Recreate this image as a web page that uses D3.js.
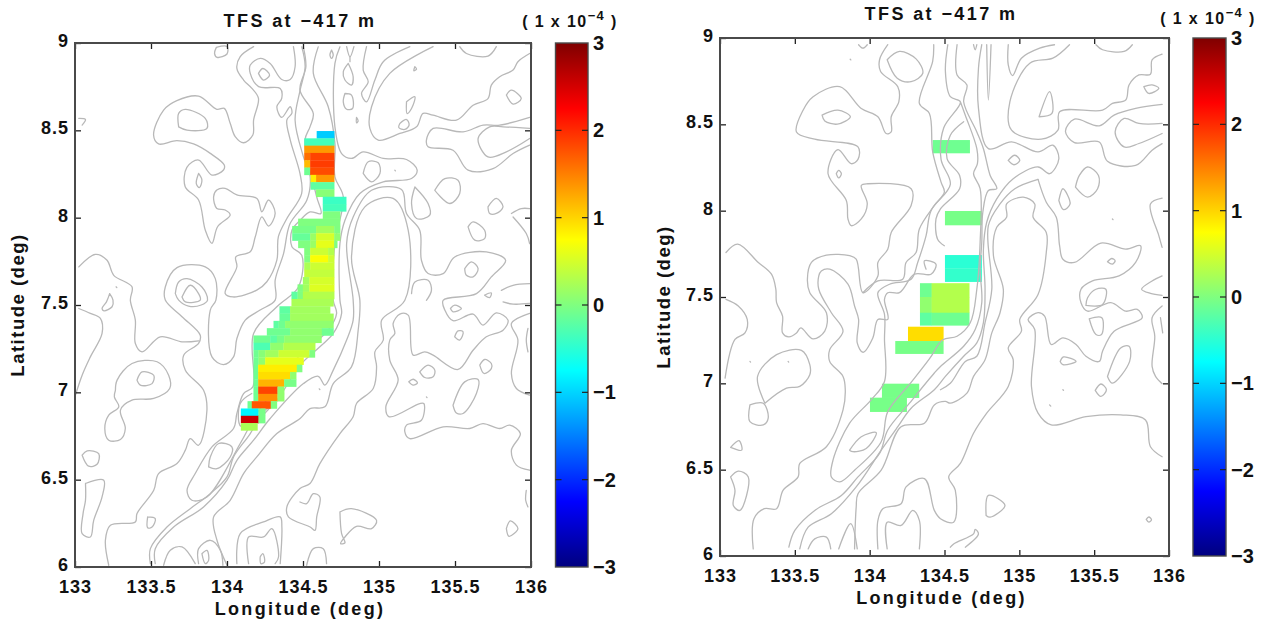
<!DOCTYPE html>
<html><head><meta charset="utf-8">
<script src="https://cdnjs.cloudflare.com/ajax/libs/d3/7.8.5/d3.min.js"></script>
<style>html,body{margin:0;background:#fff}svg{display:block}text{font-family:"Liberation Sans",Arial,sans-serif;font-weight:bold;fill:#111}</style>
</head><body><svg id="c" width="1263" height="622"></svg>
<script>
const lonTicks=[133,133.5,134,134.5,135,135.5,136];
const lonTickLabels=["133","133.5","134","134.5","135","135.5","136"];
const latTicks=[6,6.5,7,7.5,8,8.5,9];
const latTickLabels=["6","6.5","7","7.5","8","8.5","9"];
const barTicks=[-3,-2,-1,0,1,2,3];
const titleText="TFS at \u2212417 m";
const xLabel="Longitude (deg)",yLabel="Latitude (deg)";
const jetStops=[[0,"#00007f"],[0.125,"#0000ff"],[0.375,"#00ffff"],[0.625,"#ffff00"],[0.875,"#ff0000"],[1,"#7f0000"]];
// left panel field: rows run north to south, each row lists [lonWest, lonEast, value]
const leftRowTop=8.496, leftRowStep=0.0418;
const leftRows=[
[[134.59,134.705,-1.05]],
[[134.508,134.705,-0.35]],
[[134.508,134.705,1.35]],
[[134.508,134.547,1.6],[134.547,134.705,1.85]],
[[134.508,134.547,1.15],[134.547,134.705,1.9]],
[[134.508,134.547,-0.1],[134.547,134.705,1.8]],
[[134.55,134.586,0.85],[134.586,134.705,1.35]],
[[134.55,134.705,-0.2]],
[[134.586,134.705,0.05]],
[[134.63,134.784,-0.4]],
[[134.63,134.784,-0.35]],
[[134.63,134.744,0]],
[[134.468,134.744,0]],
[[134.429,134.586,-0.05],[134.586,134.705,0.2],[134.705,134.744,0]],
[[134.429,134.547,-0.15],[134.547,134.586,0.15],[134.586,134.705,0.5],[134.705,134.744,0.1]],
[[134.468,134.547,0],[134.547,134.586,0.15],[134.586,134.705,0.6],[134.705,134.725,0]],
[[134.508,134.547,0],[134.547,134.665,0.45],[134.665,134.705,0.3]],
[[134.508,134.547,0],[134.547,134.665,0.72],[134.665,134.705,0.45]],
[[134.508,134.547,0.25],[134.547,134.705,0.45]],
[[134.508,134.705,0.4]],
[[134.499,134.542,0.2],[134.542,134.705,0.5]],
[[134.464,134.499,0],[134.499,134.542,0.2],[134.542,134.705,0.55]],
[[134.424,134.464,-0.2],[134.464,134.499,0],[134.499,134.705,0.3]],
[[134.424,134.7,0.25]],
[[134.345,134.415,-0.2],[134.415,134.678,0.2]],
[[134.345,134.415,-0.15],[134.415,134.7,0.2]],
[[134.306,134.339,-0.2],[134.339,134.382,-0.1],[134.382,134.7,0.1]],
[[134.262,134.415,-0.1],[134.415,134.624,0.1],[134.624,134.7,-0.1]],
[[134.174,134.284,-0.1],[134.284,134.328,-0.2],[134.328,134.376,-0.05],[134.376,134.621,0.1]],
[[134.174,134.284,-0.3],[134.284,134.371,0.1],[134.371,134.58,0.3]],
[[134.174,134.207,-0.1],[134.207,134.251,0.05],[134.251,134.339,0.2],[134.339,134.542,0.45],[134.542,134.578,0]],
[[134.174,134.207,-0.1],[134.207,134.251,0.1],[134.251,134.503,0.6]],
[[134.174,134.205,-0.1],[134.205,134.459,0.85],[134.459,134.494,0]],
[[134.174,134.205,-0.1],[134.205,134.415,0.95],[134.415,134.455,0.1]],
[[134.174,134.205,-0.1],[134.205,134.376,1.2],[134.376,134.455,-0.05]],
[[134.174,134.205,-0.1],[134.205,134.332,1.85],[134.332,134.376,0.1]],
[[134.174,134.205,-0.1],[134.205,134.332,1.4],[134.332,134.376,0.1]],
[[134.135,134.163,-0.1],[134.163,134.288,1.75],[134.288,134.328,0]],
[[134.091,134.207,-0.8],[134.207,134.251,-0.05]],
[[134.091,134.207,2.55],[134.207,134.251,-0.05]],
[[134.091,134.2,0.25]]
];
// right panel field: [lonWest, lonEast, latNorth, latSouth, value]
const rightCells=[
[134.421,134.668,8.409,8.334,-0.1],
[134.503,134.748,7.998,7.917,-0.05],
[134.503,134.748,7.743,7.666,-0.5],
[134.503,134.748,7.666,7.589,-0.45],
[134.336,134.414,7.58,7.5,-0.1],
[134.414,134.665,7.58,7.5,0.3],
[134.336,134.414,7.5,7.409,0.1],
[134.414,134.665,7.5,7.409,0.3],
[134.336,134.414,7.409,7.336,-0.2],
[134.414,134.665,7.409,7.336,-0.1],
[134.256,134.492,7.328,7.245,0.95],
[134.171,134.492,7.245,7.172,-0.05],
[134.082,134.329,6.998,6.917,-0.05],
[134.002,134.247,6.917,6.836,-0.05]
];
const leftContours=[
[[133.93,8.975],[134,8.98],[134,8.937],[133.935,8.918],[133.918,8.941],[133.93,8.975]],
[[134.175,8.979],[134.087,8.922],[134.065,8.855],[134.109,8.788],[134.164,8.74],[134.207,8.683],[134.175,8.559],[134.17,8.473],[134.109,8.429],[134.054,8.464],[134.021,8.54],[133.982,8.626],[133.933,8.62],[133.813,8.696],[133.67,8.67],[133.583,8.616],[133.517,8.473],[133.55,8.422],[133.67,8.441],[133.78,8.422],[133.89,8.368],[133.982,8.301],[133.977,8.273],[133.901,8.244],[133.813,8.33],[133.736,8.288],[133.725,8.177],[133.813,8.101],[133.857,7.929],[133.901,7.853],[133.938,7.948],[134.021,8.015],[133.988,8.044],[133.933,8.053],[133.912,8.12],[133.933,8.158],[133.988,8.168],[134.065,8.13],[134.197,8.11],[134.229,8.034],[134.273,8.101],[134.317,8.025],[134.273,7.952],[134.229,8.005],[134.186,7.891],[134.153,7.805],[134.058,7.776],[134.065,7.719],[133.988,7.566],[134.04,7.546],[134.196,7.585],[134.262,7.633],[134.328,7.757],[134.338,7.891],[134.394,7.995],[134.491,8.138],[134.48,8.253],[134.416,8.445],[134.394,8.56],[134.427,8.598],[134.416,8.635],[134.36,8.574],[134.328,8.635],[134.36,8.683],[134.35,8.74],[134.208,8.75],[134.153,8.826],[134.153,8.874],[134.219,8.912],[134.284,8.883],[134.36,8.791],[134.416,8.791],[134.448,8.864],[134.437,8.979]],
[[134.207,8.826],[134.236,8.854],[134.28,8.816],[134.24,8.788],[134.207,8.826]],
[[133.025,8.568],[133.069,8.562],[133.047,8.53]],
[[133.813,8.253],[133.835,8.215],[133.818,8.172],[133.798,8.195],[133.813,8.253]],
[[133.682,8.52],[133.682,8.597],[133.725,8.62],[133.857,8.568],[133.868,8.511],[133.737,8.501],[133.682,8.52]],
[[133.025,7.718],[133.134,7.79],[133.211,7.756],[133.255,7.67],[133.375,7.604],[133.364,7.528],[133.397,7.413],[133.397,7.28],[133.441,7.232],[133.561,7.318],[133.704,7.289],[133.813,7.295]],
[[133.222,6.01],[133.2,6.153],[133.233,6.239],[133.397,6.258],[133.408,6.306],[133.518,6.439],[133.55,6.535],[133.671,6.592],[133.726,6.669],[133.758,6.735],[133.813,6.697],[133.868,6.898],[133.846,7.012],[133.726,7.127],[133.715,7.213],[133.813,7.28],[133.824,7.327],[133.704,7.433],[133.594,7.528],[133.594,7.603],[133.671,7.714],[133.857,7.718],[133.923,7.651],[133.927,7.528],[133.89,7.471],[133.901,7.203],[133.977,7.159],[134.043,7.203],[134.065,7.308],[134.12,7.413],[134.218,7.471],[134.317,7.528],[134.317,7.642],[134.372,7.794],[134.415,7.966],[134.525,8.1],[134.547,8.234],[134.503,8.348],[134.448,8.558],[134.481,8.73],[134.514,8.864],[134.492,8.978]],
[[133.66,7.565],[133.682,7.632],[133.737,7.651],[133.835,7.603],[133.872,7.528],[133.83,7.5],[133.747,7.494],[133.682,7.528],[133.66,7.565]],
[[133.704,7.546],[133.758,7.613],[133.813,7.565],[133.824,7.528],[133.726,7.518],[133.704,7.546]],
[[133.228,7.565],[133.25,7.528],[133.244,7.49],[133.19,7.467],[133.178,7.48],[133.207,7.518],[133.228,7.565]],
[[133.27,7.604],[133.275,7.6]],
[[133.408,7.07],[133.441,7.117],[133.518,7.098],[133.507,7.05],[133.43,7.041],[133.408,7.07]],
[[133.266,7.012],[133.277,7.07],[133.375,7.165],[133.54,7.175],[133.616,7.098],[133.623,7.022],[133.518,6.965],[133.375,6.955],[133.299,6.898],[133.331,6.793],[133.299,6.73],[133.222,6.726],[133.196,6.793],[133.222,6.869],[133.288,6.917],[133.259,6.974],[133.266,7.012]],
[[133.047,6.64],[133.08,6.665],[133.156,6.649],[133.145,6.588],[133.09,6.577],[133.047,6.64]],
[[133.069,6.478],[133.189,6.497],[133.178,6.401],[133.123,6.267],[133.101,6.172],[133.047,6.191],[133.053,6.306],[133.069,6.382],[133.069,6.478]],
[[133.478,6.287],[133.528,6.277],[133.507,6.229],[133.478,6.225],[133.478,6.287]],
[[133.025,7.48],[133.101,7.452],[133.167,7.423],[133.178,7.337],[133.101,7.203],[133.047,7.098],[133.003,6.984]],
[[133.879,6.573],[133.89,6.63],[133.945,6.707],[134.032,6.688],[134.021,6.63],[133.934,6.563],[133.879,6.573]],
[[133.496,6.019],[133.496,6.105],[133.605,6.229],[133.758,6.334],[133.89,6.42],[134,6.516],[134.043,6.63],[134.153,6.764],[134.229,6.879],[134.328,6.955],[134.481,7.156],[134.611,7.261],[134.699,7.337],[134.754,7.452],[134.743,7.528],[134.743,7.852],[134.776,7.985],[134.874,8.138],[135.028,8.205],[135.214,8.224],[135.251,8.272],[135.181,8.333],[135.028,8.339],[134.896,8.377],[134.819,8.339],[134.754,8.367],[134.71,8.52],[134.71,8.883],[134.743,8.978]],
[[133.528,6.019],[133.528,6.105],[133.649,6.229],[133.846,6.344],[134,6.497],[134.065,6.611],[134.175,6.726],[134.284,6.85],[134.503,7.05],[134.6,7.092],[134.644,7.041],[134.699,7.127],[134.787,7.299],[134.83,7.413],[134.83,7.528],[134.787,7.852],[134.83,8.004],[134.951,8.157],[135.148,8.161],[135.181,8.024],[135.268,7.928],[135.279,7.756],[135.323,7.68],[135.422,7.68],[135.498,7.775],[135.706,7.804],[135.833,7.756],[135.739,7.661],[135.641,7.565],[135.422,7.527],[135.433,7.471],[135.487,7.41],[135.619,7.448],[135.684,7.385],[135.772,7.455],[135.849,7.413],[135.816,7.356],[135.706,7.318],[135.619,7.241],[135.52,7.131],[135.356,7.213],[135.301,7.232],[135.225,7.213],[135.192,7.442],[135.137,7.448],[135.093,7.394],[135.104,7.337],[135.071,7.299],[135.071,7.184],[135.126,7.07],[135.045,6.917],[135.067,6.86],[135.268,6.936],[135.295,6.936],[135.279,6.84],[135.181,6.812],[135.17,6.774],[135.203,6.735],[135.422,6.802],[135.597,6.793],[135.684,6.821],[135.794,6.793],[135.86,6.812],[135.93,6.764],[135.871,6.668],[135.904,6.583],[135.991,6.554]],
[[134,6.01],[133.934,6.153],[133.912,6.287],[134.021,6.382],[134.109,6.535],[134.196,6.63],[134.328,6.764],[134.481,6.85],[134.546,6.907],[134.644,6.917],[134.699,7.05],[134.819,7.146],[134.863,7.356],[134.874,7.528],[134.819,7.775],[134.907,8.062],[135.093,8.11],[135.192,7.928],[135.17,7.527],[135.017,7.413],[135.028,7.299],[134.973,7.232],[134.984,7.146],[134.962,7.022],[134.852,6.936],[134.83,6.86],[134.743,6.764],[134.611,6.592],[134.546,6.478],[134.48,6.449],[134.394,6.344],[134.404,6.287],[134.547,6.229],[134.579,6.21],[134.59,6.286],[134.611,6.401],[134.568,6.42],[134.524,6.363],[134.48,6.372]],
[[134.6,8.978],[134.568,8.826],[134.666,8.635],[134.71,8.425],[134.71,8.234],[134.765,8.119],[134.71,7.852],[134.699,7.527],[134.721,7.452],[134.666,7.356],[134.546,7.261],[134.48,7.213],[134.328,7.031],[134.196,6.879],[134.087,6.707],[133.868,6.401],[133.769,6.382],[133.737,6.439],[133.791,6.535],[133.901,6.688],[134.043,6.793],[134.065,6.879],[134.109,6.993],[134.17,7.031],[134.175,7.337],[134.328,7.49],[134.47,7.603],[134.492,7.785],[134.427,7.833],[134.427,7.928],[134.481,7.985],[134.546,8.033],[134.618,8.024],[134.59,8.119],[134.513,8.444],[134.546,8.52],[134.568,8.596],[134.48,8.73],[134.519,8.864],[134.502,8.978]],
[[134.163,6.993],[134.087,6.936],[134.091,6.806],[134.196,6.84],[134.306,6.936]],
[[134.065,6.019],[134.087,6.191],[134.24,6.258],[134.35,6.287],[134.361,6.229],[134.35,6.019]],
[[134.142,6.019],[134.142,6.172],[134.24,6.172],[134.295,6.22],[134.339,6.057],[134.317,6.019]],
[[134.218,6.057],[134.236,6.076],[134.247,6.029],[134.223,6.019],[134.218,6.057]],
[[133.835,6.076],[133.868,6.095],[133.879,6.038],[133.857,6.019],[133.835,6.076]],
[[133.583,6.01],[133.627,6.096],[133.704,6.115],[133.791,6.019]],
[[133.813,6.019],[133.813,6.105],[133.89,6.153],[133.956,6.096],[133.973,6.01]],
[[135.268,7.117],[135.323,7.156],[135.367,7.127],[135.356,7.089],[135.301,7.085],[135.268,7.117]],
[[135.196,7.06],[135.225,7.075],[135.253,7.054],[135.225,7.041],[135.196,7.06]],
[[135.312,6.974],[135.316,6.97]],
[[135.498,7.318],[135.52,7.352],[135.553,7.347],[135.531,7.299],[135.498,7.318]],
[[135.663,7.156],[135.695,7.188],[135.739,7.165],[135.739,7.136],[135.691,7.108],[135.663,7.156]],
[[135.487,6.926],[135.564,7.06],[135.652,7.073],[135.641,6.993],[135.553,6.879],[135.509,6.882],[135.487,6.926]],
[[135.47,7.48],[135.498,7.499],[135.542,7.48],[135.487,7.461],[135.47,7.48]],
[[134.607,7.02],[134.611,7.016]],
[[135.838,6.22],[135.864,6.264],[135.914,6.22],[135.855,6.176],[135.838,6.22]],
[[134.743,6.315],[134.819,6.334],[134.984,6.267],[134.951,6.22],[134.852,6.233],[134.776,6.172],[134.747,6.134],[134.776,6.138],[134.754,6.191],[134.743,6.315]],
[[135.969,6.439],[135.965,6.382],[135.98,6.344]],
[[135.98,7.366],[135.969,7.299],[135.98,7.232]],
[[135.991,7.452],[135.871,7.394],[135.914,7.299],[135.871,7.108],[135.904,7.022],[135.991,6.984]],
[[135.816,7.518],[135.882,7.505],[135.991,7.509]],
[[134.524,6.01],[134.568,6.105],[134.633,6.105],[134.655,6.019]],
[[135.531,8.979],[135.575,8.94],[135.717,8.925],[135.772,8.979]],
[[135.991,8.94],[135.914,8.893],[135.882,8.845],[135.794,8.807],[135.739,8.759],[135.717,8.682],[135.619,8.644],[135.509,8.558],[135.356,8.587],[135.29,8.597],[135.247,8.52],[135.137,8.482],[134.995,8.444],[134.94,8.511],[134.951,8.635],[135.071,8.826],[135.356,8.979]],
[[135.203,8.979],[135.028,8.893],[134.973,8.788],[134.918,8.663],[134.885,8.711],[134.929,8.778],[134.896,8.845],[134.918,8.979]],
[[134.688,8.959],[134.699,8.931],[134.688,8.912],[134.677,8.931],[134.688,8.959]],
[[134.787,8.979],[134.809,8.921],[134.835,8.979]],
[[134.809,8.921],[134.809,8.893]],
[[134.798,8.883],[134.83,8.807],[134.819,8.759],[134.776,8.788],[134.765,8.835],[134.798,8.883]],
[[134.776,8.711],[134.819,8.702],[134.826,8.625],[134.787,8.621],[134.765,8.663],[134.776,8.711]],
[[134.852,8.574],[134.863,8.554],[134.852,8.543],[134.852,8.574]],
[[135.236,8.864],[135.247,8.851],[135.229,8.841],[135.236,8.864]],
[[135.181,8.663],[135.236,8.692],[135.214,8.625],[135.185,8.596],[135.181,8.663]],
[[135.137,8.539],[135.181,8.562],[135.198,8.53],[135.17,8.505],[135.13,8.516],[135.137,8.539]],
[[135.991,8.574],[135.794,8.53],[135.685,8.53],[135.553,8.491],[135.356,8.511],[135.312,8.444],[135.323,8.406],[135.487,8.386],[135.586,8.272],[135.75,8.281],[135.882,8.367],[135.991,8.415]],
[[135.991,8.511],[135.816,8.52],[135.728,8.52],[135.652,8.453],[135.717,8.348],[135.838,8.377],[135.991,8.453]],
[[134.896,8.253],[134.929,8.32],[134.995,8.314],[135.006,8.253],[134.951,8.205],[134.896,8.253]],
[[135.104,8.272],[135.108,8.268]],
[[135.236,8.176],[135.323,8.081],[135.334,8.014],[135.247,7.995],[135.214,8.081],[135.236,8.176]],
[[135.367,8.157],[135.433,8.224],[135.52,8.214],[135.531,8.138],[135.466,8.081],[135.367,8.157]],
[[135.717,8.062],[135.772,8.11],[135.816,8.062],[135.772,8.024],[135.728,8.024],[135.717,8.062]],
[[135.586,7.947],[135.619,7.976],[135.695,7.928],[135.695,7.88],[135.63,7.871],[135.586,7.947]],
[[135.564,7.708],[135.608,7.747],[135.652,7.708],[135.619,7.661],[135.575,7.67],[135.564,7.708]],
[[135.214,7.565],[135.236,7.632],[135.323,7.642],[135.345,7.584],[135.312,7.527]],
[[135.695,7.556],[135.739,7.569],[135.728,7.542],[135.695,7.556]],
[[135.805,7.584],[135.882,7.613],[135.991,7.622]],
[[135.871,8.024],[135.936,8.052],[135.991,8.052]],
[[135.882,8.004],[135.969,7.909],[135.991,7.852]],
[[135.838,8.702],[135.871,8.73],[135.936,8.682],[135.882,8.65],[135.838,8.702]]
];
const rightContours=[
[[133.926,8.961],[133.955,8.941],[133.984,8.961]],
[[133.87,8.877],[133.874,8.873]],
[[134.117,8.874],[134.199,8.922],[134.31,8.879],[134.355,8.796],[134.277,8.747],[134.184,8.767],[134.117,8.874]],
[[134.121,8.961],[134.066,8.874],[134.073,8.806],[134.188,8.718],[134.195,8.631],[134.144,8.544],[134.144,8.456],[134.11,8.447],[134.055,8.544],[133.944,8.592],[133.8,8.718],[133.622,8.66],[133.555,8.582],[133.511,8.456],[133.633,8.414],[133.922,8.369],[133.922,8.297],[133.877,8.272],[133.788,8.354],[133.722,8.214],[133.844,8.059],[133.855,7.952],[133.877,7.913],[133.944,7.952],[133.984,8.039],[133.944,8.146],[133.988,8.156],[134.277,8.127],[134.277,8.03],[134.144,7.874],[134.121,7.777],[134.055,7.7],[134.055,7.622],[133.955,7.525],[133.91,7.719],[133.866,7.739],[133.711,7.742],[133.611,7.7],[133.584,7.603],[133.6,7.525],[133.711,7.409],[133.7,7.302],[133.622,7.257],[133.54,7.321],[133.511,7.292],[133.46,7.269],[133.418,7.292],[133.418,7.389],[133.378,7.467],[133.373,7.545],[133.344,7.632],[133.256,7.7],[133.118,7.806],[133.04,7.758]],
[[133.682,8.553],[133.788,8.582],[133.871,8.544],[133.784,8.501],[133.7,8.52],[133.682,8.553]],
[[133.777,8.214],[133.793,8.233],[133.811,8.214],[133.793,8.19],[133.777,8.214]],
[[133.222,6.041],[133.227,6.216],[133.296,6.274],[133.378,6.274],[133.422,6.381],[133.522,6.458],[133.533,6.536],[133.711,6.633],[133.822,6.846],[133.837,6.963],[133.822,7.04],[133.733,7.127],[133.733,7.195],[133.822,7.302],[133.744,7.409],[133.66,7.545],[133.66,7.622],[133.677,7.651],[133.733,7.661],[133.855,7.574],[133.899,7.448],[133.926,7.37],[133.917,7.234],[133.955,7.18],[134.021,7.263],[134.055,7.37],[134.121,7.37],[134.099,7.486],[134.121,7.525],[134.199,7.525],[134.299,7.632],[134.41,7.632],[134.443,7.69],[134.366,7.71],[134.377,7.661]],
[[133.955,7.525],[134.055,7.593],[134.221,7.603],[134.243,7.7],[134.31,7.758],[134.332,7.894],[134.432,8.03],[134.499,8.107],[134.477,8.165],[134.421,8.34],[134.399,8.563],[134.332,8.621],[134.421,8.864],[134.428,8.961]],
[[134.522,8.961],[134.506,8.806],[134.539,8.66],[134.606,8.631],[134.495,8.48],[134.477,8.297],[134.539,8.152],[134.41,8],[134.377,7.855],[134.321,7.7],[134.277,7.603],[134.133,7.574],[134.055,7.525],[134.099,7.4],[134.099,7.257],[134.099,7.011],[134.01,6.904],[133.866,6.769],[133.755,6.555],[133.744,6.458],[133.8,6.429],[133.899,6.497],[134.077,6.662],[134.121,6.836],[134.277,7.005],[134.399,7.141],[134.488,7.252],[134.584,7.273],[134.672,7.351],[134.716,7.545],[134.738,7.816],[134.738,8.127],[134.694,8.214],[134.72,8.272],[134.716,8.359],[134.639,8.553],[134.606,8.631]],
[[134.628,8.515],[134.539,8.437],[134.517,8.301],[134.601,8.204],[134.601,8.127],[134.473,8.01],[134.443,7.952],[134.454,7.835],[134.499,7.797]],
[[134.584,8.961],[134.584,8.786],[134.65,8.728],[134.628,8.631],[134.716,8.456],[134.76,8.359],[134.805,8.204],[134.849,8.127],[134.793,8.117],[134.756,7.991],[134.749,7.816],[134.738,7.661],[134.749,7.467],[134.705,7.312],[134.628,7.215],[134.473,7.098],[134.432,7.06],[134.266,6.885],[134.121,6.73],[134.066,6.594],[133.922,6.458],[133.811,6.351],[133.633,6.264],[133.5,6.148],[133.46,6.051]],
[[134.749,8.961],[134.727,8.825],[134.727,8.592],[134.793,8.359],[134.948,8.398],[135.125,8.34],[135.224,8.379],[135.264,8.301],[135.202,8.214],[135.125,8.253],[134.959,8.185],[134.849,8.068],[134.782,7.933],[134.76,7.777],[134.771,7.545],[134.76,7.351],[134.716,7.234],[134.628,7.157],[134.506,7.04],[134.432,6.963],[134.277,6.856],[134.188,6.749],[134.077,6.613],[133.91,6.4],[133.744,6.245],[133.589,6.167],[133.533,6.041]],
[[133.899,6.041],[133.91,6.283],[133.922,6.361],[134.077,6.497],[134.21,6.749],[134.366,6.769],[134.432,6.875],[134.506,6.895],[134.539,6.885],[134.65,6.943],[134.694,7.04],[134.771,7.137],[134.816,7.292],[134.871,7.409],[134.893,7.545],[134.827,7.739],[134.849,7.904],[134.915,7.962],[134.915,8.039],[135.026,8.078],[135.103,8.039],[135.092,7.962],[135.18,7.874],[135.18,7.758],[135.125,7.515],[135.003,7.37],[135.014,7.302],[134.926,7.205],[134.959,7.137],[134.926,6.982],[134.782,6.827],[134.694,6.711],[134.606,6.536],[134.528,6.458],[134.572,6.381],[134.561,6.196],[134.473,6.216],[134.432,6.264],[134.366,6.448],[134.243,6.4],[134.21,6.303],[134.088,6.274],[134.055,6.206],[134.055,6.041]],
[[134.117,6.041],[134.117,6.196],[134.21,6.177],[134.288,6.264],[134.332,6.206],[134.332,6.041]],
[[133.589,6.041],[133.633,6.099],[133.711,6.109],[133.74,6.041]],
[[133.793,6.041],[133.873,6.187],[133.917,6.041]],
[[133.866,6.613],[133.944,6.691],[134.044,6.714],[133.977,6.623],[133.888,6.604],[133.866,6.613]],
[[133.3,6.885],[133.251,7.04],[133.378,7.166],[133.544,7.191],[133.6,7.108],[133.6,7.05],[133.533,6.982],[133.444,6.972],[133.3,6.885]],
[[133.2,6.875],[133.289,6.885],[133.322,6.798],[133.289,6.759],[133.2,6.778],[133.2,6.875]],
[[133.2,7.127],[133.204,7.123]],
[[133.455,7.127],[133.459,7.123]],
[[133.04,7.486],[133.122,7.448],[133.182,7.37],[133.167,7.292],[133.1,7.254],[133.034,7.03]],
[[133.071,6.629],[133.127,6.668],[133.145,6.613],[133.071,6.629]],
[[133.071,6.458],[133.122,6.491],[133.189,6.458],[133.133,6.264],[133.089,6.293],[133.1,6.381],[133.071,6.458]],
[[134.694,8.961],[134.705,8.932],[134.716,8.961]],
[[134.782,8.961],[134.793,8.641],[134.811,8.961]],
[[134.926,8.961],[134.926,8.844],[134.955,8.782],[135.014,8.883],[135.136,8.941],[135.235,8.961]],
[[135.335,8.961],[135.224,8.883],[135.07,8.854],[134.937,8.631],[134.948,8.466],[135.147,8.414],[135.258,8.466],[135.269,8.573],[135.556,8.582],[135.622,8.621],[135.711,8.641],[135.733,8.728],[135.799,8.786],[135.876,8.79],[135.887,8.873],[135.954,8.906]],
[[135.512,8.961],[135.556,8.932],[135.7,8.922],[135.755,8.961]],
[[135.832,8.718],[135.887,8.728],[135.932,8.709],[135.865,8.679],[135.832,8.718]],
[[135.132,8.544],[135.202,8.689],[135.218,8.563],[135.132,8.544]],
[[135.954,8.615],[135.777,8.592],[135.633,8.553],[135.534,8.491],[135.368,8.53],[135.308,8.46],[135.368,8.394],[135.534,8.398],[135.589,8.286],[135.777,8.262],[135.887,8.35],[135.954,8.388]],
[[135.954,8.505],[135.799,8.505],[135.7,8.534],[135.64,8.456],[135.7,8.369],[135.799,8.389],[135.954,8.447]],
[[134.926,8.291],[134.97,8.321],[135.003,8.291],[134.964,8.266],[134.926,8.291]],
[[135.375,8.136],[135.401,8.204],[135.456,8.253],[135.529,8.204],[135.523,8.127],[135.456,8.078],[135.375,8.136]],
[[135.264,8.059],[135.291,8.127],[135.339,8.039],[135.295,8.006],[135.264,8.059]],
[[135.622,7.952],[135.626,7.948]],
[[135.589,7.704],[135.618,7.723],[135.64,7.71],[135.622,7.69],[135.589,7.704]],
[[135.954,8.072],[135.876,8.039],[135.932,7.855],[135.954,7.787]],
[[135.954,7.622],[135.887,7.593],[135.817,7.545],[135.876,7.521],[135.954,7.51]],
[[135.954,7.448],[135.887,7.38],[135.905,7.273],[135.887,7.098],[135.91,7.04],[135.954,6.998]],
[[135.943,7.38],[135.958,7.292]],
[[135.445,7.451],[135.456,7.496],[135.512,7.545],[135.578,7.545],[135.556,7.457],[135.445,7.451]],
[[135.467,7.374],[135.551,7.38],[135.549,7.283],[135.512,7.283],[135.467,7.374]],
[[135.273,7.127],[135.295,7.153],[135.379,7.127],[135.291,7.108],[135.273,7.127]],
[[135.589,7.04],[135.677,7.205],[135.733,7.215],[135.737,7.127],[135.622,7.001],[135.589,7.04]],
[[135.507,6.959],[135.545,6.996],[135.582,6.963],[135.545,6.924],[135.507,6.959]],
[[135.291,6.963],[135.295,6.96]],
[[135.202,6.875],[135.21,6.868]],
[[134.778,6.235],[134.793,6.351],[134.904,6.293],[134.805,6.225],[134.778,6.235]],
[[134.539,6.051],[134.561,6.07],[134.694,6.128],[134.705,6.154],[134.727,6.128],[134.639,6.051]],
[[135.848,6.212],[135.865,6.226],[135.883,6.21],[135.865,6.196],[135.848,6.212]],
[[135.125,8.181],[134.97,8.127],[134.871,8.039],[134.793,7.913],[134.816,7.545],[134.771,7.351],[134.716,7.157],[134.639,7.127],[134.539,7.0],[134.473,6.963]],
[[135.125,8.181],[135.18,8.049],[135.247,7.962],[135.269,7.797],[135.291,7.719],[135.368,7.7],[135.545,7.812],[135.711,7.777],[135.81,7.797],[135.777,7.7],[135.666,7.622],[135.489,7.593],[135.412,7.545],[135.412,7.467],[135.456,7.418],[135.611,7.467],[135.711,7.418],[135.788,7.428],[135.821,7.38],[135.633,7.302],[135.556,7.186],[135.534,7.127],[135.445,7.157],[135.379,7.225],[135.291,7.263],[135.213,7.225],[135.169,7.389],[135.125,7.409],[135.059,7.37],[135.103,7.312],[135.081,6.982],[135.125,6.827],[135.213,6.759],[135.445,6.807],[135.678,6.817],[135.843,6.788],[135.876,6.633],[135.954,6.575]]
];

const leftCells=leftRows.flatMap((row,i)=>row.map(s=>[s[0],s[1],leftRowTop-i*leftRowStep,leftRowTop-(i+1)*leftRowStep,s[2]]));
const layouts=[
 {x0:75,x1:531,y0:43,y1:567,bar0:555.5,bar1:588,titleX:300,titleY:27,unitX:570,unitY:27,xLabelY:615,xTickY:593,yLabelX:24,cells:leftCells,contours:leftContours,clip:"cl",heatOnTop:true},
 {x0:720,x1:1169,y0:38,y1:556,bar0:1193,bar1:1226,titleX:941,titleY:20,unitX:1208,unitY:24,xLabelY:604,xTickY:582,yLabelX:670,cells:rightCells,contours:rightContours,clip:"cr",heatOnTop:false}
];
const svg=d3.select("#c");
const defs=svg.append("defs");
const grad=defs.append("linearGradient").attr("id","jet").attr("x1",0).attr("x2",0).attr("y1",1).attr("y2",0);
jetStops.forEach(s=>grad.append("stop").attr("offset",s[0]).attr("stop-color",s[1]));
defs.append("filter").attr("id","soft").append("feGaussianBlur").attr("stdDeviation",0.35);
const jet=d3.scaleLinear().domain(jetStops.map(s=>s[0]*6-3)).range(jetStops.map(s=>s[1])).interpolate(d3.interpolateRgb);
const line=d3.line().curve(d3.curveCatmullRom.alpha(0.5));
const frame="#4a4a4a";
function styleAxis(g){
  g.selectAll(".domain").remove();
  g.selectAll(".tick line").attr("stroke","#222").attr("stroke-width",1.3);
}
layouts.forEach(p=>{
  const x=d3.scaleLinear().domain([133,136]).range([p.x0,p.x1]);
  const y=d3.scaleLinear().domain([6,9]).range([p.y1,p.y0]);
  const bar=d3.scaleLinear().domain([-3,3]).range([p.y1,p.y0]);
  const g=svg.append("g");
  defs.append("clipPath").attr("id",p.clip).append("rect").attr("x",p.x0).attr("y",p.y0).attr("width",p.x1-p.x0).attr("height",p.y1-p.y0);
  const drawHeat=()=>g.append("g").selectAll("rect").data(p.cells).join("rect")
   .attr("x",d=>x(d[0])).attr("width",d=>x(d[1])-x(d[0])+0.3)
   .attr("y",d=>y(d[2])).attr("height",d=>y(d[3])-y(d[2])+0.3)
   .attr("fill",d=>jet(d[4]));
  const drawLines=()=>g.append("g").attr("clip-path",`url(#${p.clip})`).append("g").attr("filter","url(#soft)").selectAll("path").data(p.contours).join("path")
   .attr("d",d=>line(d.map(q=>[x(q[0]),y(q[1])])))
   .attr("fill","none").attr("stroke","#b8b8b8").attr("stroke-width",1.3).attr("stroke-linejoin","round").attr("stroke-linecap","round");
  if(p.heatOnTop){drawLines();drawHeat();}else{drawHeat();drawLines();}
  const ax=g.append("g").attr("transform",`translate(0,${p.y1})`).call(d3.axisBottom(x).tickValues(lonTicks).tickSize(-6).tickPadding(0).tickFormat((d,i)=>lonTickLabels[i])).call(styleAxis);
  ax.selectAll("text").attr("y",p.xTickY-p.y1).attr("dy",0).attr("font-size",18).attr("letter-spacing",1).attr("text-anchor","middle");
  g.append("g").attr("transform",`translate(0,${p.y0})`).call(d3.axisTop(x).tickValues(lonTicks).tickSize(-6).tickFormat("")).call(styleAxis);
  const ay=g.append("g").attr("transform",`translate(${p.x0},0)`).call(d3.axisLeft(y).tickValues(latTicks).tickSize(-6).tickPadding(6).tickFormat((d,i)=>latTickLabels[i])).call(styleAxis);
  ay.selectAll("text").attr("font-size",18).attr("letter-spacing",1).attr("dy","0.2em");
  g.append("g").attr("transform",`translate(${p.x1},0)`).call(d3.axisRight(y).tickValues(latTicks).tickSize(-6).tickFormat("")).call(styleAxis);
  g.append("rect").attr("x",p.x0).attr("y",p.y0).attr("width",p.x1-p.x0).attr("height",p.y1-p.y0).attr("fill","none").attr("stroke",frame).attr("stroke-width",2);
  g.append("text").attr("x",p.titleX).attr("y",p.titleY).attr("text-anchor","middle").attr("font-size",18).attr("letter-spacing",2.4).text(titleText);
  g.append("text").attr("x",(p.x0+p.x1)/2-3).attr("y",p.xLabelY).attr("text-anchor","middle").attr("font-size",18).attr("letter-spacing",2.3).text(xLabel);
  g.append("text").attr("transform",`translate(${p.yLabelX},${(p.y0+p.y1)/2}) rotate(-90)`).attr("text-anchor","middle").attr("font-size",18.5).attr("letter-spacing",1.5).text(yLabel);
  g.append("rect").attr("x",p.bar0).attr("y",p.y0).attr("width",p.bar1-p.bar0).attr("height",p.y1-p.y0).attr("fill","url(#jet)").attr("stroke",frame).attr("stroke-width",1.4);
  const bg=g.append("g").attr("transform",`translate(${p.bar1},0)`).call(d3.axisRight(bar).tickValues(barTicks).tickSize(0).tickPadding(5).tickFormat(d=>d<0?"\u2212"+(-d):""+d)).call(styleAxis);
  bg.selectAll("text").attr("font-size",20);
  g.append("g").selectAll("line").data(barTicks.slice(1,-1)).join("line").attr("x1",p.bar0).attr("x2",p.bar0+6).attr("y1",d=>bar(d)).attr("y2",d=>bar(d)).attr("stroke","#222").attr("stroke-width",1.2);
  g.append("g").selectAll("line").data(barTicks.slice(1,-1)).join("line").attr("x1",p.bar1-6).attr("x2",p.bar1).attr("y1",d=>bar(d)).attr("y2",d=>bar(d)).attr("stroke","#222").attr("stroke-width",1.2);
  const u=g.append("text").attr("x",p.unitX).attr("y",p.unitY).attr("text-anchor","middle").attr("font-size",16).attr("letter-spacing",1.4);
  u.append("tspan").text("( 1 x 10");
  u.append("tspan").attr("dy",-7).attr("font-size",13).text("\u22124");
  u.append("tspan").attr("dy",7).text(" )");
});
</script></body></html>
